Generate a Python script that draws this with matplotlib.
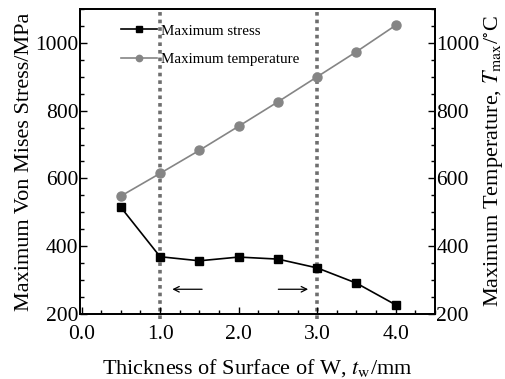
import matplotlib
matplotlib.use("Agg")
import matplotlib.pyplot as plt
from matplotlib.ticker import MultipleLocator

plt.rcParams['font.family'] = ['Liberation Serif', 'DejaVu Serif']
plt.rcParams['mathtext.fontset'] = 'stix'

thickness = [0.5, 1.0, 1.5, 2.0, 2.5, 3.0, 3.5, 4.0]
max_stress = [515, 369, 357, 368, 362, 336, 291, 227]
max_temp = [548, 615, 683, 754, 826, 900, 974, 1052]
bounds = [1.0, 3.0]
xticks = [0.0, 1.0, 2.0, 3.0, 4.0]
xticklabels = ['0.0', '1.0', '2.0', '3.0', '4.0']
yticks = [200, 400, 600, 800, 1000]

fig = plt.figure(figsize=(5.06, 3.79), dpi=100)
ax = fig.add_axes([80/506, 1-314/379, (435-80)/506, (314-9)/379])
ax2 = ax.twinx()

ax.set_xlim(-0.02, 4.5)
ax.set_ylim(200, 1100)
ax2.set_ylim(200, 1100)

for b in bounds:
    ax.axvline(b, ymin=-0.018, ymax=1.0, color='#6e6e6e', lw=2.6,
               linestyle=(0, (1, 1.1)), clip_on=False, zorder=1)

l1, = ax.plot(thickness, max_stress, color='black', lw=1.2, marker='s',
              markersize=6, zorder=3, label='Maximum stress')
l2, = ax2.plot(thickness, max_temp, color='#858585', lw=1.2, marker='o',
               markersize=6.5, zorder=3, label='Maximum temperature')

ax.annotate('', xy=(1.12, 273), xytext=(1.57, 273),
            arrowprops=dict(arrowstyle='->', color='black', lw=0.9))
ax.annotate('', xy=(2.92, 273), xytext=(2.47, 273),
            arrowprops=dict(arrowstyle='->', color='black', lw=0.9))

ax.set_xticks(xticks)
ax.set_xticklabels(xticklabels)
ax.set_yticks(yticks)
ax2.set_yticks(yticks)
ax.xaxis.set_minor_locator(MultipleLocator(0.25))
ax.yaxis.set_minor_locator(MultipleLocator(50))
ax2.yaxis.set_minor_locator(MultipleLocator(50))

for a in (ax, ax2):
    a.tick_params(which='both', direction='in', labelsize=15.5, width=1.0)
    a.tick_params(which='major', length=5)
    a.tick_params(which='minor', length=3)
    for s in a.spines.values():
        s.set_linewidth(1.3)
ax.tick_params(axis='x', pad=8)
ax.tick_params(axis='y', pad=1)
ax2.tick_params(axis='y', pad=1)

ax.set_xlabel(r'Thickness of Surface of W, $t_{\rm w}$/mm', fontsize=16, labelpad=9)
ax.set_ylabel('Maximum Von Mises Stress/MPa', fontsize=16, labelpad=1)
ax2.set_ylabel(r'Maximum Temperature, $T_{\rm max}$/$^{\circ}$C', fontsize=16, labelpad=1)

leg = ax.legend(handles=[l1, l2], loc='upper left', bbox_to_anchor=(0.1, 0.97),
                frameon=False, fontsize=10.8, markerscale=0.7, labelspacing=1.0,
                handlelength=2.4, handletextpad=0.25, borderaxespad=0)
leg.set_zorder(5)

fig.savefig('out.png', dpi=100)
